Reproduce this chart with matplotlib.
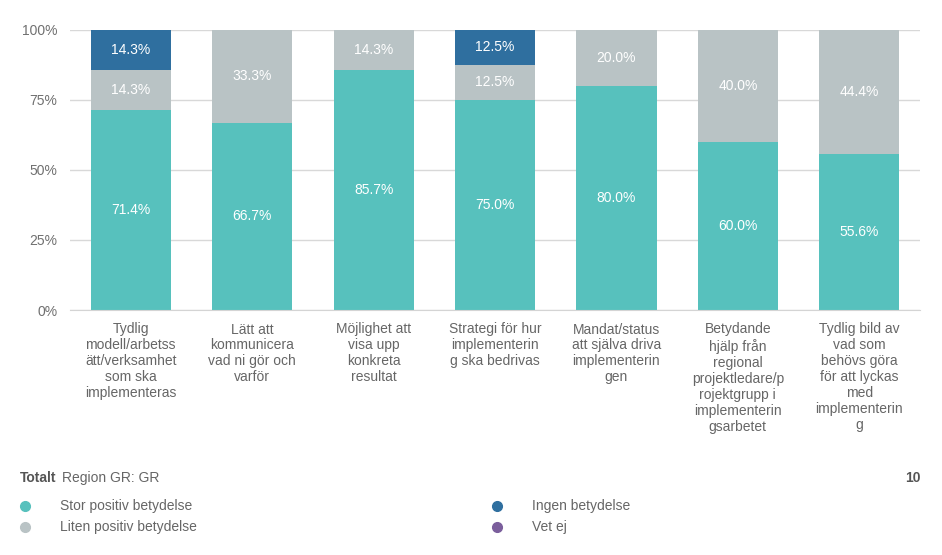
import matplotlib
matplotlib.use("Agg")
import matplotlib.pyplot as plt
from matplotlib.lines import Line2D

plt.rcParams['font.family'] = ['Liberation Sans', 'DejaVu Sans']

categories = [
    "Tydlig\nmodell/arbetss\nätt/verksamhet\nsom ska\nimplementeras",
    "Lätt att\nkommunicera\nvad ni gör och\nvarför",
    "Möjlighet att\nvisa upp\nkonkreta\nresultat",
    "Strategi för hur\nimplementerin\ng ska bedrivas",
    "Mandat/status\natt själva driva\nimplementerin\ngen",
    "Betydande\nhjälp från\nregional\nprojektledare/p\nrojektgrupp i\nimplementerin\ngsarbetet",
    "Tydlig bild av\nvad som\nbehövs göra\nför att lyckas\nmed\nimplementerin\ng",
]
stor = [71.4, 66.7, 85.7, 75.0, 80.0, 60.0, 55.6]
liten = [14.3, 33.3, 14.3, 12.5, 20.0, 40.0, 44.4]
ingen = [14.3, 0, 0, 12.5, 0, 0, 0]
vetej = [0, 0, 0, 0, 0, 0, 0]

series_names = ["Stor positiv betydelse", "Liten positiv betydelse", "Ingen betydelse", "Vet ej"]
colors = ["#57c1bd", "#b9c3c5", "#2f6f9f", "#7b5e9c"]
yticks = [0, 25, 50, 75, 100]

fig = plt.figure(figsize=(9.42, 5.55), dpi=100)
ax = fig.add_axes([70/942, 1-310/555, 850/942, (310-29.5)/555])

x = list(range(len(categories)))
bottom = [0]*len(categories)
for vals, col in zip([stor, liten, ingen, vetej], colors):
    ax.bar(x, vals, bottom=bottom, width=0.66, color=col, zorder=2)
    for xi, v, b in zip(x, vals, bottom):
        if v > 0:
            ax.text(xi, b + v/2, f"{v:.1f}%", ha='center', va='center',
                    color='white', fontsize=10, zorder=3)
    bottom = [b + v for b, v in zip(bottom, vals)]

ax.set_xlim(-0.5, len(categories)-0.5)
ax.set_ylim(0, 100)
ax.set_yticks(yticks)
ax.set_yticklabels([f"{t}%" for t in yticks], color='#707070', fontsize=10)
ax.yaxis.grid(True, color='#d8d8d8', linewidth=1, zorder=0)
ax.set_xticks(x)
ax.set_xticklabels(categories, color='#666666', fontsize=10, linespacing=1.18)
ax.tick_params(axis='both', length=0)
ax.tick_params(axis='x', pad=9)
ax.tick_params(axis='y', pad=9)
for s in ['top', 'right', 'left']:
    ax.spines[s].set_visible(False)
ax.spines['bottom'].set_color('#d4d4d4')

fig.text(20/942, 1-478/555, "Totalt", fontsize=10, fontweight='bold', color='#555555', va='center')
fig.text(62/942, 1-478/555, "Region GR: GR", fontsize=10, color='#666666', va='center')
fig.text(921/942, 1-478/555, "10", fontsize=10, fontweight='bold', color='#555555', va='center', ha='right')

legend_pos = [(25, 506), (25, 527), (497, 506), (497, 527)]
for (lx, ly), name, col in zip(legend_pos, series_names, colors):
    fig.add_artist(Line2D([lx/942], [1-ly/555], marker='o', markersize=7,
                          color=col, linestyle='none'))
    fig.text((lx+35)/942, 1-ly/555, name, fontsize=10, color='#666666', va='center')

fig.savefig("out.png", dpi=100)
